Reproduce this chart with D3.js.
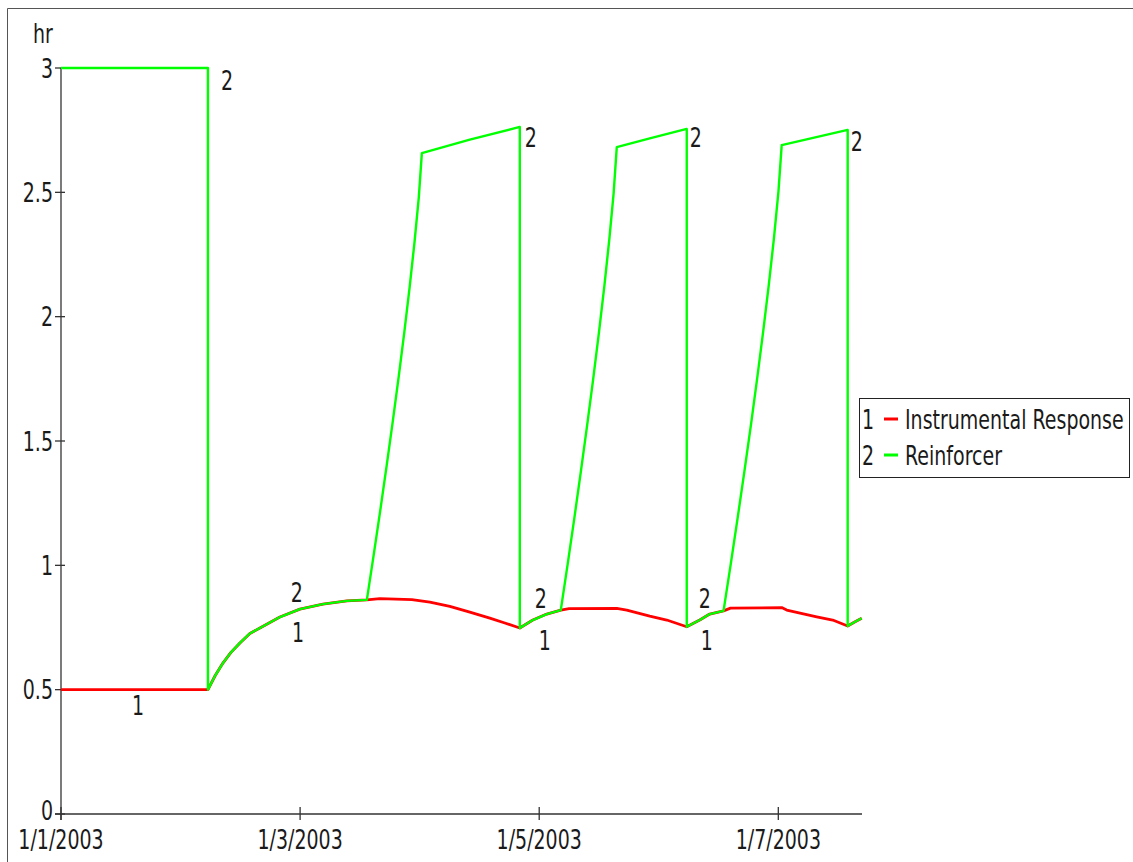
<!DOCTYPE html>
<html>
<head>
<meta charset="utf-8">
<script src="https://cdn.jsdelivr.net/npm/d3@7/dist/d3.min.js"></script>
<style>
  html, body { margin: 0; padding: 0; background: #fff; }
  svg { display: block; }
  text { font-family: "DejaVu Sans", Verdana, sans-serif; fill: #1a1a1a; }
</style>
</head>
<body>
<script>
// ---------- data (time in days since 1/1/2003, value in hr) ----------
const startDate = "1/1/2003";
const endDay = 6.7;

const responseDays = [0, 1.2291, 1.29, 1.3545, 1.42, 1.4967, 1.58, 1.6639, 1.8311, 1.9983, 2.1906, 2.3913, 2.5585,
  2.6672, 2.9348, 3.0853, 3.2525, 3.4197, 3.5870, 3.7124, 3.8378,
  3.9465, 4.0635, 4.1806, 4.25, 4.6488, 4.7324, 4.9247, 5.0669, 5.2341,
  5.3428, 5.4264, 5.5418, 5.60, 6.0284, 6.0702, 6.3211, 6.4548, 6.5803, 6.6388, 6.6973];
const responseValues = [0.5, 0.5, 0.557, 0.607, 0.649, 0.688, 0.726, 0.748, 0.792, 0.824, 0.844, 0.857, 0.861,
  0.866, 0.862, 0.852, 0.835, 0.812, 0.788, 0.768, 0.748,
  0.780, 0.804, 0.820, 0.826, 0.827, 0.820, 0.796, 0.780, 0.753,
  0.780, 0.804, 0.817, 0.828, 0.830, 0.820, 0.793, 0.780, 0.756, 0.772, 0.787];

const reinforcerDays = [0, 1.2291, 1.2291, 1.29, 1.3545, 1.42, 1.4967, 1.58, 1.6639, 1.8311, 1.9983, 2.1906, 2.3913, 2.5585,
  2.6153, 2.6704, 2.7238, 2.7755, 2.8251, 2.8721, 2.9163, 2.9569, 2.9925, 3.0184, 3.4197, 3.8378,
  3.8378, 3.9465, 4.0635, 4.1806,
  4.2384, 4.2946, 4.3489, 4.4015, 4.4520, 4.4999, 4.5449, 4.5862, 4.6225, 4.6488, 4.9247, 5.2341,
  5.2341, 5.3428, 5.4264, 5.5418,
  5.6018, 5.6602, 5.7167, 5.7714, 5.8238, 5.8736, 5.9204, 5.9634, 6.0011, 6.0284, 6.3000, 6.5803,
  6.5803, 6.6388, 6.6973];
const reinforcerValues = [3.0, 3.0, 0.5, 0.557, 0.607, 0.649, 0.688, 0.726, 0.748, 0.792, 0.824, 0.844, 0.857, 0.861,
  1.041, 1.220, 1.400, 1.580, 1.760, 1.939, 2.119, 2.299, 2.478, 2.658, 2.712, 2.763,
  0.748, 0.780, 0.804, 0.820,
  1.006, 1.192, 1.379, 1.565, 1.751, 1.937, 2.123, 2.310, 2.496, 2.682, 2.717, 2.755,
  0.753, 0.780, 0.804, 0.817,
  1.004, 1.192, 1.379, 1.566, 1.754, 1.941, 2.128, 2.315, 2.503, 2.690, 2.720, 2.751,
  0.756, 0.772, 0.787];

const xTickLabels = ["1/1/2003", "1/3/2003", "1/5/2003", "1/7/2003"];
const yTickValues = [0, 0.5, 1, 1.5, 2, 2.5, 3];
const yTickLabels = ["0", "0.5", "1", "1.5", "2", "2.5", "3"];
const yUnit = "hr";

const seriesNames = ["Instrumental Response", "Reinforcer"];
const seriesNumbers = ["1", "2"];
const seriesColors = ["#ff0000", "#00ff00"];

// curve number labels: [series number, day, value]
const markerLabels = [
  ["1", 0.644, 0.438],
  ["2", 1.388, 2.952],
  ["2", 1.973, 0.893],
  ["1", 1.982, 0.732],
  ["2", 3.930, 2.722],
  ["2", 4.013, 0.869],
  ["1", 4.047, 0.700],
  ["2", 5.309, 2.722],
  ["2", 5.385, 0.869],
  ["1", 5.401, 0.700],
  ["2", 6.656, 2.706]
];

// ---------- layout ----------
const W = 1133, H = 862;
const FS = 19, SY = 1.4; // font size & vertical stretch of the original rendering
const DIGIT_HALF = FS * 0.729 * SY / 2;

const svg = d3.select("body").append("svg").attr("width", W).attr("height", H);

const parse = d3.timeParse("%m/%d/%Y");
const t0 = parse(startDate);
const toDate = d => new Date(t0.getTime() + d * 864e5);

const x = d3.scaleTime().domain([t0, toDate(endDay)]).range([61, 862]);
const y = d3.scaleLinear().domain([0, 3]).range([814, 68]);

function label(g, txt, px, py, anchor, sy) {
  return g.append("text")
    .attr("transform", `translate(${px},${py}) scale(1,${sy || SY})`)
    .attr("text-anchor", anchor || "start")
    .attr("font-size", FS)
    .text(txt);
}

// outer frame
svg.append("path")
  .attr("d", `M7.5,${H + 5}V8.5H${W + 5}`)
  .attr("fill", "none").attr("stroke", "#555").attr("stroke-width", 1);

// axes
const axG = svg.append("g").attr("stroke", "#333").attr("stroke-width", 1.3);
axG.append("line").attr("x1", x.range()[0]).attr("x2", x.range()[0]).attr("y1", y(3)).attr("y2", y(0) + 6);
axG.append("line").attr("x1", x.range()[0] - 6).attr("x2", x.range()[1]).attr("y1", y(0)).attr("y2", y(0));
yTickValues.forEach(v => {
  axG.append("line").attr("x1", x.range()[0] - 6).attr("x2", x.range()[0] + 4).attr("y1", y(v)).attr("y2", y(v));
});
xTickLabels.forEach(s => {
  const px = x(parse(s));
  axG.append("line").attr("x1", px).attr("x2", px).attr("y1", y(0) - 7).attr("y2", y(0) + 6);
});

const txtG = svg.append("g");
yTickValues.forEach((v, i) => label(txtG, yTickLabels[i], 53, y(v) + DIGIT_HALF - (v === 0 ? 4 : 0), "end"));
xTickLabels.forEach(s => label(txtG, s, x(parse(s)), 849, "middle"));
label(txtG, yUnit, 33, 43, "start");

// series
const line = d3.line().x(d => x(toDate(d[0]))).y(d => y(d[1])).curve(d3.curveLinear);
const respData = responseDays.map((d, i) => [d, responseValues[i]]);
const reinData = reinforcerDays.map((d, i) => [d, reinforcerValues[i]]);

svg.append("path").datum(respData).attr("d", line)
  .attr("fill", "none").attr("stroke", seriesColors[0]).attr("stroke-width", 2.8).attr("stroke-linejoin", "round");
svg.append("path").datum(reinData).attr("d", line)
  .attr("fill", "none").attr("stroke", seriesColors[1]).attr("stroke-width", 2.4).attr("stroke-linejoin", "round");

// curve number labels
markerLabels.forEach(m => label(txtG, m[0], x(toDate(m[1])), y(m[2]) + DIGIT_HALF, "middle"));

// legend
const lg = svg.append("g");
lg.append("rect").attr("x", 859.5).attr("y", 398.5).attr("width", 270).attr("height", 79)
  .attr("fill", "#fff").attr("stroke", "#222").attr("stroke-width", 1);
const rowY = [419, 455];
seriesNames.forEach((name, i) => {
  label(lg, seriesNumbers[i], 862, rowY[i] + DIGIT_HALF, "start");
  lg.append("line").attr("x1", 884).attr("x2", 898).attr("y1", rowY[i]).attr("y2", rowY[i])
    .attr("stroke", seriesColors[i]).attr("stroke-width", 3);
  label(lg, name, 905, rowY[i] + DIGIT_HALF, "start");
});
</script>
</body>
</html>
